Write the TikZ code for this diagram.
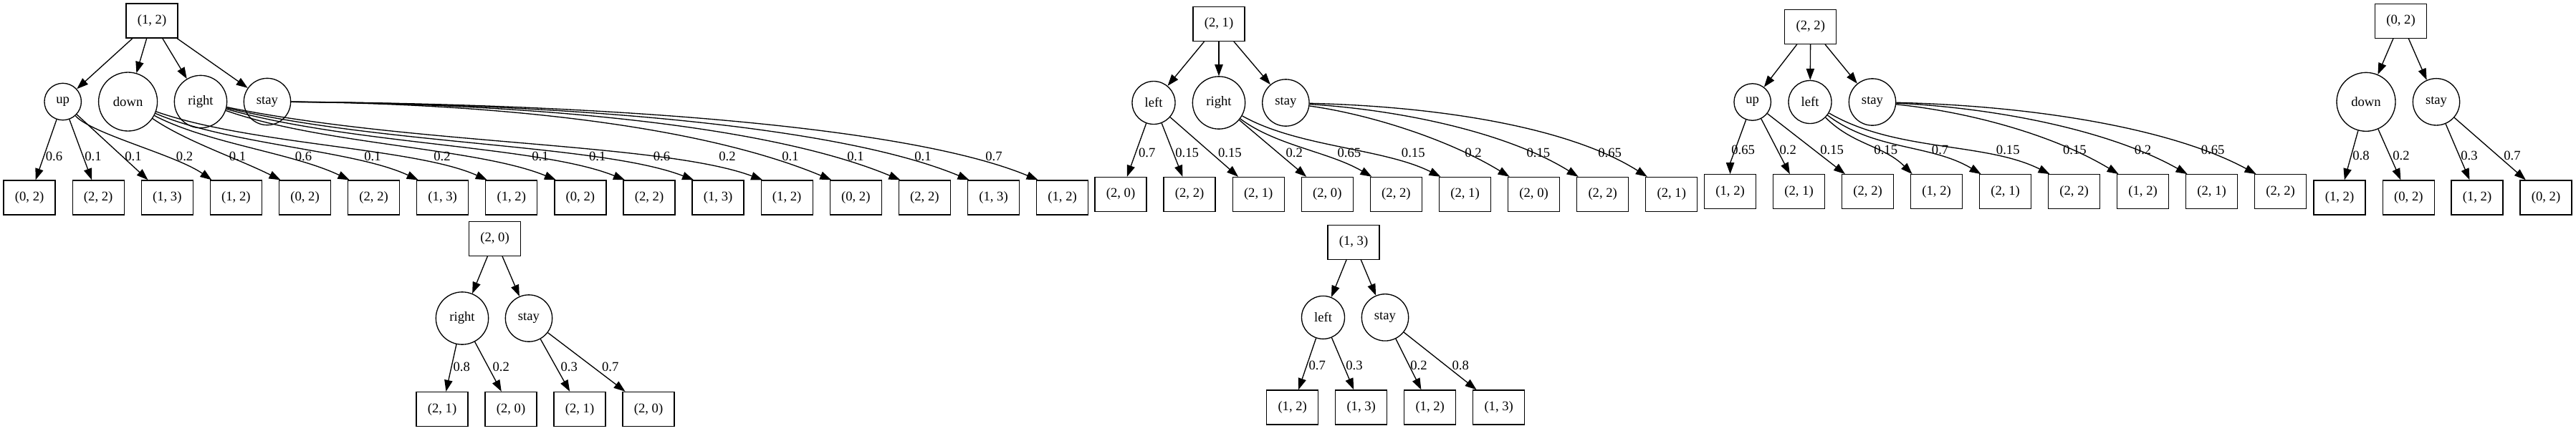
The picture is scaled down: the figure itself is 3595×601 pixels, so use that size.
\documentclass[tikz,border=0pt]{standalone}
\usepackage{fontspec}
\setmainfont{Liberation Serif}
\usetikzlibrary{arrows.meta,shapes.geometric}
\begin{document}
\begin{tikzpicture}[x=0.75pt,y=0.75pt,
  font=\fontsize{14}{16}\selectfont,
  box/.style={draw, rectangle, minimum width=54pt, minimum height=36pt, inner sep=0pt, line width=1pt},
  act/.style={draw, circle, inner sep=0pt, line width=1pt},
  cUp/.style={act, minimum size=38.6pt},
  cDown/.style={act, minimum size=61.5pt},
  cRight/.style={act, minimum size=55pt},
  cStay/.style={act, minimum size=49pt},
  cLeft/.style={act, minimum size=45pt},
  lbl/.style={inner sep=0pt},
  edge/.style={-{Triangle[length=12pt,width=8.5pt]}, line width=1pt}]
\useasboundingbox (0,0) rectangle (3595,-601);

% ---------------- Tree 1: (1, 2)
\node[box] (r1) at (212,-29) {(1, 2)};
\node[cUp] (a1u) at (87.7,-142) {up};
\node[cDown] (a1d) at (178.6,-142) {down};
\node[cRight] (a1r) at (280,-142) {right};
\node[cStay] (a1s) at (373,-142) {stay};
\foreach \i/\t in {0/{(0, 2)},1/{(2, 2)},2/{(1, 3)},3/{(1, 2)},4/{(0, 2)},5/{(2, 2)},6/{(1, 3)},7/{(1, 2)},8/{(0, 2)},9/{(2, 2)},10/{(1, 3)},11/{(1, 2)},12/{(0, 2)},13/{(2, 2)},14/{(1, 3)},15/{(1, 2)}}
  \node[box] (t1l\i) at ({41.1+96.1*\i},-276) {\t};
\draw[edge] (r1) -- (a1u);
\draw[edge] (r1) -- (a1d);
\draw[edge] (r1) -- (a1r);
\draw[edge] (r1) -- (a1s);
\draw[edge] (a1u) -- (t1l0);
\draw[edge] (a1u) -- (t1l1);
\draw[edge] (a1u) -- (t1l2);
\draw[edge] (a1u) .. controls +(40,-45) and +(-50,35) .. ([xshift=2pt]t1l3.north west);
\draw[edge] (a1d) .. controls +(80,-55) and +(-60,30) .. ([xshift=2pt]t1l4.north west);
\draw[edge] (a1d) .. controls +(110,-58) and +(-80,38) .. ([xshift=2pt]t1l5.north west);
\draw[edge] (a1d) .. controls +(140,-60) and +(-90,42) .. ([xshift=2pt]t1l6.north west);
\draw[edge] (a1d) .. controls +(170,-60) and +(-100,45) .. ([xshift=2pt]t1l7.north west);
\draw[edge] (a1r) .. controls +(170,-60) and +(-110,45) .. ([xshift=2pt]t1l8.north west);
\draw[edge] (a1r) .. controls +(210,-60) and +(-120,48) .. ([xshift=2pt]t1l9.north west);
\draw[edge] (a1r) .. controls +(250,-60) and +(-130,50) .. ([xshift=2pt]t1l10.north west);
\draw[edge] (a1r) .. controls +(290,-60) and +(-140,52) .. ([xshift=2pt]t1l11.north west);
\draw[edge] (a1s) .. controls +(330,-3) and +(-180,75) .. ([xshift=2pt]t1l12.north west);
\draw[edge] (a1s) .. controls +(370,-3) and +(-185,77) .. ([xshift=2pt]t1l13.north west);
\draw[edge] (a1s) .. controls +(410,-3) and +(-185,77) .. ([xshift=2pt]t1l14.north west);
\draw[edge] (a1s) .. controls +(450,-3) and +(-185,77) .. ([xshift=2pt]t1l15.north west);
\foreach \i/\x/\t in {0/75.5/0.6,1/130/0.1,2/186/0.1,3/257.6/0.2,4/331.6/0.1,5/423.5/0.6,6/520/0.1,7/617/0.2,8/754/0.1,9/833.7/0.1,10/923.5/0.6,11/1015/0.2,12/1103/0.1,13/1194/0.1,14/1288/0.1,15/1387/0.7}
  \node[lbl] (t1e\i) at (\x,-218.3) {\t};

% ---------------- Tree 2: (2, 1)
\node[box] (r2) at (1701,-33.3) {(2, 1)};
\node[cLeft] (a2l) at (1610,-143.5) {left};
\node[cRight] (a2r) at (1701,-143.5) {right};
\node[cStay] (a2s) at (1794.4,-143.5) {stay};
\foreach \i/\t in {0/{(2, 0)},1/{(2, 2)},2/{(2, 1)},3/{(2, 0)},4/{(2, 2)},5/{(2, 1)},6/{(2, 0)},7/{(2, 2)},8/{(2, 1)}}
  \node[box] (t2l\i) at ({1564+96.1*\i},-271.5) {\t};
\draw[edge] (r2) -- (a2l);
\draw[edge] (r2) -- (a2r);
\draw[edge] (r2) -- (a2s);
\draw[edge] (a2l) -- (t2l0);
\draw[edge] (a2l) -- (t2l1);
\draw[edge] (a2l) -- (t2l2);
\draw[edge] (a2r) -- (t2l3);
\draw[edge] (a2r) .. controls +(80,-60) and +(-60,35) .. ([xshift=2pt]t2l4.north west);
\draw[edge] (a2r) .. controls +(110,-62) and +(-80,40) .. ([xshift=2pt]t2l5.north west);
\draw[edge] (a2s) .. controls +(110,-15) and +(-90,55) .. ([xshift=2pt]t2l6.north west);
\draw[edge] (a2s) .. controls +(160,-10) and +(-100,62) .. ([xshift=2pt]t2l7.north west);
\draw[edge] (a2s) .. controls +(210,-5) and +(-110,70) .. ([xshift=2pt]t2l8.north west);
\foreach \i/\x/\t in {0/1600.7/0.7,1/1656.6/0.15,2/1716.4/0.15,3/1806.3/0.2,4/1882.9/0.65,5/1972.3/0.15,6/2056/0.2,7/2146.9/0.15,8/2246.7/0.65}
  \node[lbl] (t2e\i) at (\x,-213.3) {\t};

% ---------------- Tree 3: (2, 2)
\node[box] (r3) at (2526.8,-37.3) {(2, 2)};
\node[cUp] (a3u) at (2445.7,-142.5) {up};
\node[cLeft] (a3l) at (2526,-142.5) {left};
\node[cStay] (a3s) at (2613,-142.5) {stay};
\foreach \i/\t in {0/{(1, 2)},1/{(2, 1)},2/{(2, 2)},3/{(1, 2)},4/{(2, 1)},5/{(2, 2)},6/{(1, 2)},7/{(2, 1)},8/{(2, 2)}}
  \node[box] (t3l\i) at ({2414.6+96*\i},-267.8) {\t};
\draw[edge] (r3) -- (a3u);
\draw[edge] (r3) -- (a3l);
\draw[edge] (r3) -- (a3s);
\draw[edge] (a3u) .. controls +(-20,-55) and +(0,40) .. (t3l0);
\draw[edge] (a3u) -- (t3l1);
\draw[edge] (a3u) -- (t3l2);
\draw[edge] (a3l) .. controls +(60,-60) and +(-40,40) .. ([xshift=2pt]t3l3.north west);
\draw[edge] (a3l) .. controls +(90,-68) and +(-70,42) .. ([xshift=2pt]t3l4.north west);
\draw[edge] (a3l) .. controls +(120,-70) and +(-90,45) .. ([xshift=2pt]t3l5.north west);
\draw[edge] (a3s) .. controls +(120,-12) and +(-100,60) .. ([xshift=2pt]t3l6.north west);
\draw[edge] (a3s) .. controls +(170,-8) and +(-110,62) .. ([xshift=2pt]t3l7.north west);
\draw[edge] (a3s) .. controls +(220,-5) and +(-120,65) .. ([xshift=2pt]t3l8.north west);
\foreach \i/\x/\t in {0/2432.6/0.65,1/2495.2/0.2,2/2556.6/0.15,3/2631.8/0.15,4/2707.6/0.7,5/2802.3/0.15,6/2895.3/0.15,7/2990.6/0.2,8/3088.2/0.65}
  \node[lbl] (t3e\i) at (\x,-209.3) {\t};

% ---------------- Tree 4: (2, 0)
\node[box] (r4) at (690.5,-333.3) {(2, 0)};
\node[cRight] (a4r) at (645,-444.5) {right};
\node[cStay] (a4s) at (738,-444.5) {stay};
\foreach \i/\x/\t in {0/617/{(2, 1)},1/713/{(2, 0)},2/809/{(2, 1)},3/905/{(2, 0)}}
  \node[box] (t4l\i) at (\x,-571.5) {\t};
\draw[edge] (r4) -- (a4r);
\draw[edge] (r4) -- (a4s);
\draw[edge] (a4r) -- (t4l0);
\draw[edge] (a4r) -- (t4l1);
\draw[edge] (a4s) -- (t4l2);
\draw[edge] (a4s) -- (t4l3);
\foreach \i/\x/\t in {0/644.3/0.8,1/699.3/0.2,2/794.3/0.3,3/851.7/0.7}
  \node[lbl] (t4e\i) at (\x,-512) {\t};

% ---------------- Tree 5: (1, 3)
\node[box] (r5) at (1889,-338.3) {(1, 3)};
\node[cLeft] (a5l) at (1846.5,-443.4) {left};
\node[cStay] (a5s) at (1933,-443.4) {stay};
\foreach \i/\x/\t in {0/1803.7/{(1, 2)},1/1899.7/{(1, 3)},2/1995.7/{(1, 2)},3/2091.7/{(1, 3)}}
  \node[box] (t5l\i) at (\x,-569) {\t};
\draw[edge] (r5) -- (a5l);
\draw[edge] (r5) -- (a5s);
\draw[edge] (a5l) -- (t5l0);
\draw[edge] (a5l) -- (t5l1);
\draw[edge] (a5s) -- (t5l2);
\draw[edge] (a5s) -- (t5l3);
\foreach \i/\x/\t in {0/1838.3/0.7,1/1890/0.3,2/1980/0.2,3/2038.3/0.8}
  \node[lbl] (t5e\i) at (\x,-510) {\t};

% ---------------- Tree 6: (0, 2)
\node[box] (r6) at (3350.5,-29.2) {(0, 2)};
\node[cDown] (a6d) at (3302,-142.3) {down};
\node[cStay] (a6s) at (3400,-142.3) {stay};
\foreach \i/\x/\t in {0/3265/{(1, 2)},1/3361.3/{(0, 2)},2/3457/{(1, 2)},3/3553/{(0, 2)}}
  \node[box] (t6l\i) at (\x,-276) {\t};
\draw[edge] (r6) -- (a6d);
\draw[edge] (r6) -- (a6s);
\draw[edge] (a6d) -- (t6l0);
\draw[edge] (a6d) -- (t6l1);
\draw[edge] (a6s) -- (t6l2);
\draw[edge] (a6s) -- (t6l3);
\foreach \i/\x/\t in {0/3295/0.8,1/3351/0.2,2/3446/0.3,3/3506/0.7}
  \node[lbl] (t6e\i) at (\x,-217.3) {\t};
\end{tikzpicture}
\end{document}
